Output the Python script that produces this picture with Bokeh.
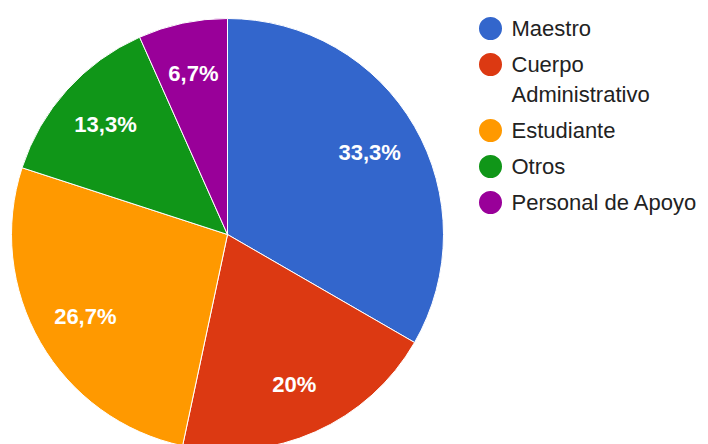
import math
from bokeh.plotting import figure
from bokeh.models import Range1d, ColumnDataSource
from bokeh.core.properties import value
from bokeh.embed import file_html
from bokeh.resources import INLINE

# ---- data ----
categories = ["Maestro", "Cuerpo Administrativo", "Estudiante", "Otros", "Personal de Apoyo"]
counts = [5, 3, 4, 2, 1]
colors = ["#3366cc", "#dc3912", "#ff9900", "#109618", "#990099"]

# ---- layout (pixels) ----
W, H = 708, 444
CX, CY_TOP, R = 227, 234, 216
CY = H - CY_TOP
FONT = "Liberation Sans"

p = figure(width=W, height=H, output_backend="svg", toolbar_location=None,
           x_range=Range1d(0, W), y_range=Range1d(0, H), min_border=0)
p.axis.visible = False
p.grid.visible = False
p.outline_line_color = None
p.background_fill_color = "white"

total = sum(counts)
starts, ends, lx, ly, labels = [], [], [], [], []
cum = 0.0
for c in counts:
    f0 = cum / total
    cum += c
    f1 = cum / total
    a0 = math.pi / 2 - 2 * math.pi * f0
    a1 = math.pi / 2 - 2 * math.pi * f1
    starts.append(a0)
    ends.append(a1)
    mid = (a0 + a1) / 2
    lx.append(CX + 0.76 * R * math.cos(mid))
    ly.append(CY + 0.76 * R * math.sin(mid))
    pct = round(100 * c / total, 1)
    s = ("%g" % pct).replace(".", ",") + "%"
    labels.append(s)

src = ColumnDataSource(dict(start=starts, end=ends, color=colors))
p.wedge(x=CX, y=CY, radius=R, start_angle="start", end_angle="end",
        direction="clock", fill_color="color", line_color="white",
        line_width=1, source=src)

p.text(x=lx, y=ly, text=labels, text_color="white", text_font=value(FONT),
       text_font_size="22px", text_font_style="bold",
       text_align="center", text_baseline="middle")

# ---- legend ----
def wrap(s, maxlen=18):
    words, lines, cur = s.split(), [], ""
    for w in words:
        if cur and len(cur) + 1 + len(w) > maxlen:
            lines.append(cur)
            cur = w
        else:
            cur = (cur + " " + w).strip()
    lines.append(cur)
    return lines

LEG_X, TXT_X, LEG_Y0, STEP, LINE_H = 490, 511, 28, 36, 30
mx, my, tx, ty, tt = [], [], [], [], []
y = LEG_Y0
for cat in categories:
    mx.append(LEG_X)
    my.append(H - y)
    lines = wrap(cat)
    for i, ln in enumerate(lines):
        tx.append(TXT_X)
        ty.append(H - (y + i * LINE_H))
        tt.append(ln)
    y += STEP + (len(lines) - 1) * LINE_H

p.scatter(x=mx, y=my, size=23, marker="circle", fill_color=colors, line_color=None)
p.text(x=tx, y=ty, text=tt, text_color="#222222", text_font=value(FONT),
       text_font_size="22px", text_align="left", text_baseline="middle")

open("out.html", "w").write(file_html(p, INLINE))
